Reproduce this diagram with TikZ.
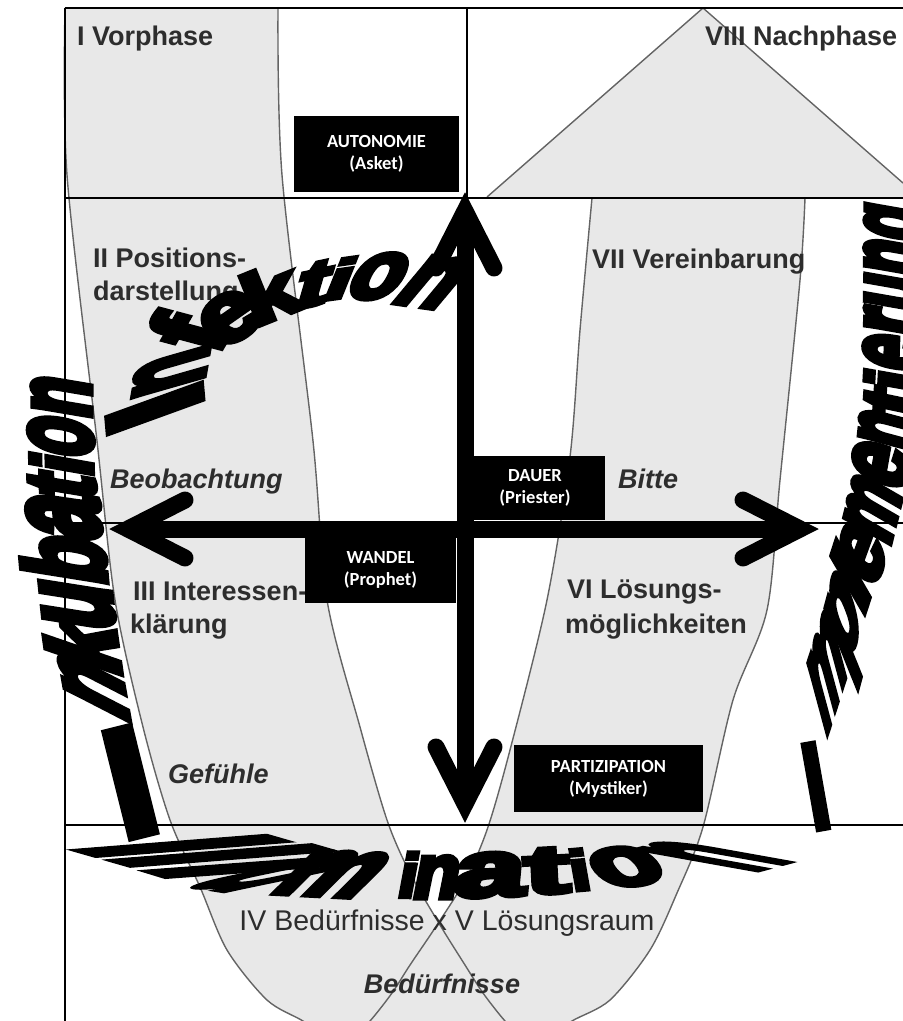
\documentclass[tikz,border=0pt]{standalone}
\usepackage{fontspec}
\setmainfont{Liberation Sans}
\newfontfamily\boxfont{Carlito}
\newfontfamily\wafamily[BoldFeatures={FakeBold=7}]{Liberation Sans}
\definecolor{bandfill}{RGB}{232,232,232}
\definecolor{bandedge}{RGB}{100,100,100}
\definecolor{txt}{RGB}{45,45,45}
\newcommand\wl[8]{\node[wa,rotate=#4,xscale=#5,yscale=#6,xslant=#7] (#8) at (#2,#3) {#1};}
\begin{document}
\begin{tikzpicture}[x=1pt,y=-1pt,
  grid/.style={line width=2pt,black},
  edge/.style={line width=1.4pt,bandedge},
  lbl/.style={font=\fontsize{27}{33}\selectfont\bfseries,text=txt,anchor=base west,inner sep=0},
  ilbl/.style={font=\fontsize{27}{33}\selectfont\bfseries\itshape,text=txt,anchor=base west,inner sep=0},
  bbox/.style={fill=black,text=white,align=center,inner sep=0,font=\boxfont\bfseries\fontsize{18.5}{22}\selectfont},
  shaft/.style={line width=17pt,black},
  head/.style={line width=17pt,black,line cap=round,line join=miter,miter limit=10},
  wa/.style={anchor=base,inner sep=0,outer sep=0,font=\wafamily\bfseries\fontsize{10}{10}\selectfont,text=black}]
\useasboundingbox (0,0) rectangle (903,1021);
\begin{scope}
\clip (0,0) rectangle (903,1021);
% bands
\fill[bandfill] plot[smooth] coordinates {(65,8) (67,175) (97,441) (115,600) (143,727) (170,820) (200,887) (227,950) (267,1000) (303,1021) (330,1040)}
  -- plot[smooth] coordinates {(525,1040) (505,1021) (483,993) (465,965) (440,925) (410,873) (387,820) (360,727) (327,600) (313,441) (282,175) (278,8)} -- cycle;
\fill[bandfill] plot[smooth] coordinates {(592,198) (580,330) (570,457) (547,600) (510,750) (488,827) (467,877) (437,925) (410,965) (392,993) (370,1021) (350,1040)}
  -- plot[smooth] coordinates {(545,1040) (572,1021) (610,1000) (650,950) (677,893) (703,827) (733,700) (767,610) (780,480) (800,280) (805,198)} -- cycle;
\fill[bandfill] (487,197) -- (703,8) -- (903,183) -- (903,198) -- cycle;
\draw[edge] (487,197) -- (703,8) -- (903,183);
\draw[edge] plot[smooth] coordinates {(65,8) (67,175) (97,441) (115,600) (143,727) (170,820) (200,887) (227,950) (267,1000) (303,1021) (330,1040)};
\draw[edge] plot[smooth] coordinates {(278,8) (282,175) (313,441) (327,600) (360,727) (387,820) (410,873) (440,925) (465,965) (483,993) (505,1021) (525,1040)};
\draw[edge] plot[smooth] coordinates {(592,198) (580,330) (570,457) (547,600) (510,750) (488,827) (467,877) (437,925) (410,965) (392,993) (370,1021) (350,1040)};
\draw[edge] plot[smooth] coordinates {(805,198) (800,280) (780,480) (767,610) (733,700) (703,827) (677,893) (650,950) (610,1000) (572,1021) (545,1040)};
\end{scope}
% grid
\draw[grid] (65,8) -- (903,8);
\draw[grid] (65,8) -- (65,1021);
\draw[grid] (467,8) -- (467,198);
\draw[grid] (65,198) -- (903,198);
\draw[grid] (65,523) -- (903,523);
\draw[grid] (65,825) -- (903,825);
% labels
\node[lbl] (l1) at (77,45) {I Vorphase};
\node[lbl] (l8) at (705,45) {VIII Nachphase};
\node[lbl] (l2a) at (93,267) {II Positions-};
\node[lbl] (l2b) at (93,300) {darstellung};
\node[ilbl] (beo) at (110,488) {Beobachtung};
\node[lbl] (l3a) at (133,600) {III Interessen-};
\node[lbl] (l3b) at (130,633) {klärung};
\node[ilbl] (gef) at (168,783) {Gefühle};
\node[font=\fontsize{28.5}{33}\selectfont,text=txt,anchor=base,inner sep=0] (l45) at (447,930) {IV Bedürfnisse x V Lösungsraum};
\node[ilbl,anchor=base] (bed) at (442,993) {Bedürfnisse};
\node[lbl] (l7) at (592,268) {VII Vereinbarung};
\node[ilbl] (bit) at (618,488) {Bitte};
\node[lbl] (l6a) at (567,598) {VI Lösungs-};
\node[lbl] (l6b) at (565,633) {möglichkeiten};
\begin{scope}
\clip (0,0) rectangle (903,1021);
% Illumination
\wl{I}{90}{853}{-16}{14.4}{9.3}{1.73}{il1}
\wl{l}{125}{863}{-16}{14.4}{9.3}{1.73}{il2}
\wl{l}{160}{874}{-17}{14.4}{9.5}{1.70}{il3}
\wl{u}{210}{888}{-9}{8.2}{8.7}{2.81}{il4}
\wl{m}{312}{895}{-3}{10}{8.26}{0.75}{il5}
\wl{i}{405}{897}{-1}{6.5}{6.16}{0.16}{il6}
\wl{n}{433}{898}{0}{7.4}{7.7}{0.21}{il7}
\wl{a}{488}{896}{2}{12.6}{7.9}{0.08}{il8}
\wl{t}{548}{893}{3}{13.2}{6.8}{0}{il9}
\wl{i}{583}{890}{5}{7.2}{5.65}{-0.07}{il10}
\wl{o}{640}{884}{10}{10.6}{7.4}{-0.39}{il11}
\wl{n}{770}{866}{15}{7.4}{9.3}{-2.68}{il12}
% Infektion
\wl{I}{200}{392}{95}{10}{13.5}{-0.36}{if1}
\wl{n}{205}{362}{80}{6.5}{12}{-0.9}{if2}
\wl{f}{224}{342}{60}{9}{10}{-0.3}{if3}
\wl{e}{245}{335}{35}{10.5}{8.5}{-0.07}{if4}
\wl{k}{280}{317}{22}{10}{7.2}{0}{if5}
\wl{t}{308}{306}{12}{9.5}{6.2}{0.35}{if6}
\wl{i}{333}{299}{8}{9}{5.3}{0.34}{if7}
\wl{o}{368}{298}{0}{8.5}{8.2}{0.5}{if8}
\wl{n}{414}{305}{-8}{8.2}{9.5}{0.72}{if9}
% Inkubation
\wl{I}{143}{833}{14}{15}{15.2}{0}{ik1}
\wl{n}{125}{702}{100}{8}{10.5}{1.0}{ik2}
\wl{k}{118}{656}{98}{8.6}{9.6}{0.57}{ik3}
\wl{u}{111}{610}{96}{7.6}{12.5}{0.44}{ik4}
\wl{b}{104}{564}{95}{7.6}{11.2}{0.37}{ik5}
\wl{a}{98}{521}{93}{7.8}{12.8}{0.33}{ik6}
\wl{t}{94}{490}{92}{6.8}{9.8}{0.29}{ik7}
\wl{i}{92}{469}{91}{6.8}{8.4}{0.24}{ik8}
\wl{o}{91}{441}{90}{6.4}{11.4}{0.30}{ik9}
\wl{n}{90}{401}{90}{6.4}{10.6}{0.28}{ik10}
% Implementierung
\wl{I}{823}{827}{10}{7.2}{12}{0}{im1}
\wl{m}{836}{705}{72}{7.9}{7.35}{1.43}{im2}
\wl{p}{854}{645}{75}{9}{6.96}{1.03}{im3}
\wl{l}{867}{605}{72}{10.8}{6.75}{0.56}{im4}
\wl{e}{880}{570}{70}{8.1}{8.7}{0.50}{im5}
\wl{m}{895}{521}{76}{6.2}{9.26}{0.43}{im6}
\wl{e}{908}{474}{80}{7.2}{10.4}{0.26}{im7}
\wl{n}{916}{437}{84}{5.7}{10.5}{0.29}{im8}
\wl{t}{919}{407}{86}{7.5}{8.25}{0.15}{im9}
\wl{i}{920}{385}{87}{7.2}{7.6}{0.13}{im10}
\wl{e}{921}{357}{88}{6.3}{10.5}{0.23}{im11}
\wl{r}{922}{327}{88}{6.4}{10.5}{0.23}{im12}
\wl{u}{922}{297}{89}{5.7}{10.5}{0.29}{im13}
\wl{n}{922}{262}{89}{5.7}{10.5}{0.29}{im14}
\wl{g}{922}{227}{90}{5.7}{10.4}{0.32}{im15}
\end{scope}
% arrows
\coordinate (hl) at (128,529);
\coordinate (hr) at (800,529);
\coordinate (vt) at (465,211);
\coordinate (vb) at (465,804);
\coordinate (hla) at (185,500); \coordinate (hlb) at (185,558);
\coordinate (hra) at (743,500); \coordinate (hrb) at (743,558);
\coordinate (vta) at (436,268); \coordinate (vtb) at (494,268);
\coordinate (vba) at (436,747); \coordinate (vbb) at (494,747);
\draw[shaft] (hl) -- (hr);
\draw[shaft] (vt) -- (vb);
\draw[head] (hla) -- (hl) -- (hlb);
\draw[head] (hra) -- (hr) -- (hrb);
\draw[head] (vta) -- (vt) -- (vtb);
\draw[head] (vba) -- (vb) -- (vbb);
% boxes
\node[bbox,minimum width=165,minimum height=76] (auto) at (376.5,154) {AUTONOMIE\\(Asket)};
\node[bbox,minimum width=140,minimum height=64] (dauer) at (535,488) {DAUER\\(Priester)};
\node[bbox,minimum width=151,minimum height=66] (wandel) at (380.5,570) {WANDEL\\(Prophet)};
\node[bbox,minimum width=189,minimum height=67] (parti) at (608.5,778.5) {PARTIZIPATION\\(Mystiker)};
\end{tikzpicture}
\end{document}
